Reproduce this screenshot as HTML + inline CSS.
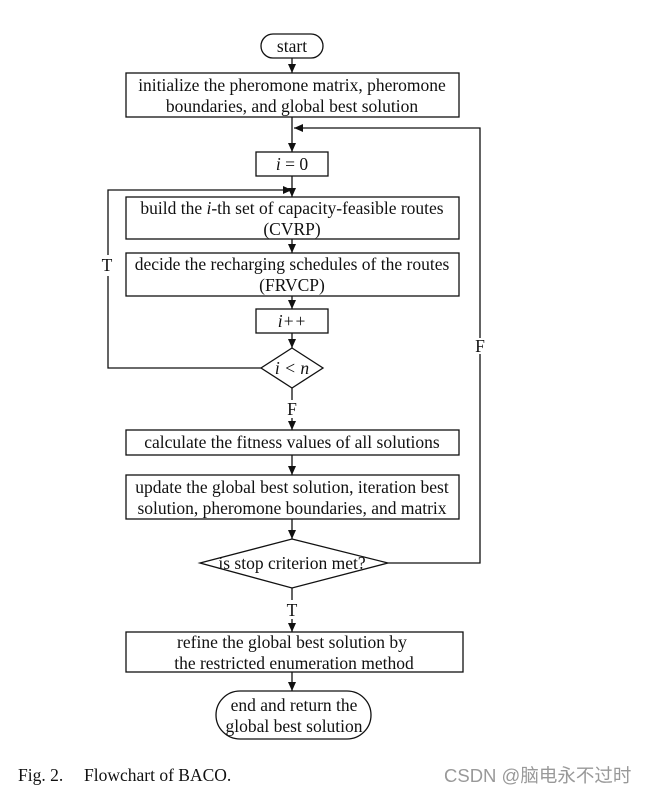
<!DOCTYPE html>
<html><head><meta charset="utf-8"><style>
html,body{margin:0;padding:0;background:#fff;}
svg{display:block;}
text{font-family:"Liberation Serif",serif;font-size:17.5px;fill:#111;}
</style></head><body>
<svg width="646" height="794" viewBox="0 0 646 794" xmlns="http://www.w3.org/2000/svg">
<defs><marker id="a" markerWidth="10" markerHeight="10" refX="9" refY="5" orient="auto" markerUnits="userSpaceOnUse"><path d="M0,1 L9,5 L0,9 z" fill="#111"/></marker></defs>
<g stroke="#111" stroke-width="1.3" fill="none">
<rect x="261" y="34" width="62" height="24" rx="12"/>
<rect x="126" y="73" width="333" height="44"/>
<rect x="256" y="152" width="72" height="24"/>
<rect x="126" y="197" width="333" height="42"/>
<rect x="126" y="253" width="333" height="43"/>
<rect x="256" y="309" width="72" height="24"/>
<path d="M292,348 L323,368 L292,388 L261,368 Z"/>
<rect x="126" y="430" width="333" height="25"/>
<rect x="126" y="475" width="333" height="44"/>
<path d="M292,539 L388,563 L292,588 L200,563 Z"/>
<rect x="126" y="632" width="337" height="40"/>
<rect x="216" y="691" width="155" height="48" rx="24"/>
<line x1="292" y1="58" x2="292" y2="73" marker-end="url(#a)"/>
<line x1="292" y1="117" x2="292" y2="152" marker-end="url(#a)"/>
<line x1="292" y1="176" x2="292" y2="197" marker-end="url(#a)"/>
<line x1="292" y1="239" x2="292" y2="253" marker-end="url(#a)"/>
<line x1="292" y1="296" x2="292" y2="309" marker-end="url(#a)"/>
<line x1="292" y1="333" x2="292" y2="348" marker-end="url(#a)"/>
<line x1="292" y1="388" x2="292" y2="400"/>
<line x1="292" y1="418" x2="292" y2="430" marker-end="url(#a)"/>
<line x1="292" y1="455" x2="292" y2="475" marker-end="url(#a)"/>
<line x1="292" y1="519" x2="292" y2="539" marker-end="url(#a)"/>
<line x1="292" y1="588" x2="292" y2="600"/>
<line x1="292" y1="619" x2="292" y2="632" marker-end="url(#a)"/>
<line x1="292" y1="672" x2="292" y2="691" marker-end="url(#a)"/>
<path d="M261,368 L108,368 L108,190 L292,190" marker-end="url(#a)"/>
<path d="M388,563 L480,563 L480,354"/>
<path d="M480,338 L480,128 L294,128" marker-end="url(#a)"/>
<line x1="108" y1="255" x2="108" y2="276" stroke="#fff" stroke-width="4"/>
</g>
<g text-anchor="middle">
<text x="292" y="91">initialize the pheromone matrix, pheromone</text>
<text x="292" y="112">boundaries, and global best solution</text>
<text x="292" y="52">start</text>
<text x="292" y="170"><tspan font-style="italic">i</tspan> = 0</text>
<text x="292" y="214">build the <tspan font-style="italic">i</tspan>-th set of capacity-feasible routes</text>
<text x="292" y="235">(CVRP)</text>
<text x="292" y="270">decide the recharging schedules of the routes</text>
<text x="292" y="291">(FRVCP)</text>
<text x="292" y="327" font-style="italic">i++</text>
<text x="292" y="374" font-style="italic">i &lt; n</text>
<text x="107" y="271">T</text>
<text x="292" y="415">F</text>
<text x="480" y="352">F</text>
<text x="292" y="448">calculate the fitness values of all solutions</text>
<text x="292" y="493">update the global best solution, iteration best</text>
<text x="292" y="514">solution, pheromone boundaries, and matrix</text>
<text x="292" y="569">is stop criterion met?</text>
<text x="292" y="616">T</text>
<text x="292" y="648">refine the global best solution by</text>
<text x="294" y="669">the restricted enumeration method</text>
<text x="294" y="711">end and return the</text>
<text x="294" y="732">global best solution</text>
</g>
<text x="18" y="781">Fig. 2.</text>
<text x="84" y="781">Flowchart of BACO.</text>
<text x="444" y="782" style="font-family:'Liberation Sans','Noto Sans CJK SC',sans-serif;font-size:18.5px;fill:#999">CSDN @脑电永不过时</text>
</svg>
</body></html>
